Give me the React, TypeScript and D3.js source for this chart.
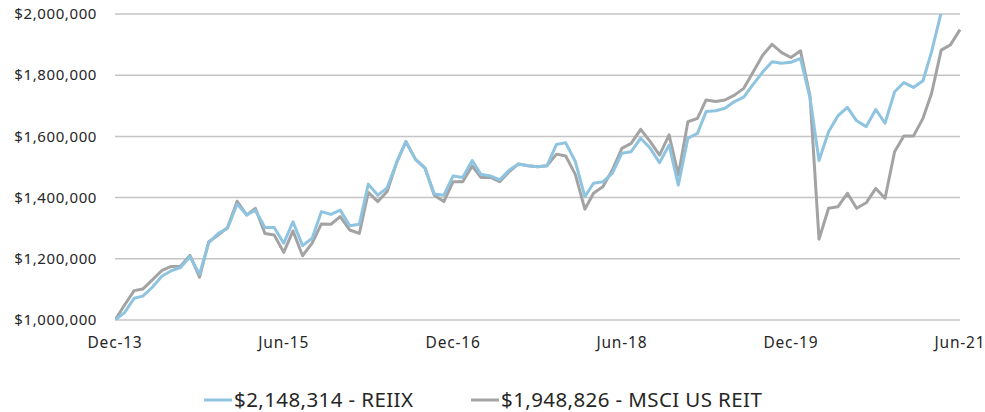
import { useEffect, useRef } from "react";
import * as d3 from "d3";

// month-end values, Dec-13 .. Jun-21 (91 points)
const startMonth = new Date(2013, 11, 1);

const reiix = [
  1000000, 1024000, 1071000, 1078000, 1107000, 1142000, 1161000, 1171000, 1207000, 1150000,
  1253000, 1283000, 1300000, 1379000, 1343000, 1359000, 1302000, 1302000, 1251000, 1321000,
  1243000, 1267000, 1354000, 1345000, 1359000, 1308000, 1313000, 1444000, 1408000, 1432000,
  1515000, 1583000, 1525000, 1496000, 1412000, 1408000, 1471000, 1466000, 1521000, 1476000,
  1471000, 1458000, 1490000, 1510000, 1504000, 1501000, 1504000, 1574000, 1579000, 1518000,
  1403000, 1447000, 1452000, 1479000, 1545000, 1550000, 1594000, 1561000, 1514000, 1572000,
  1441000, 1594000, 1610000, 1681000, 1684000, 1692000, 1714000, 1728000, 1771000, 1811000,
  1844000, 1839000, 1842000, 1855000, 1725000, 1521000, 1615000, 1667000, 1695000, 1651000,
  1632000, 1688000, 1643000, 1746000, 1776000, 1760000, 1782000, 1877000, 2005000, 2090000,
  2148314,
];

const msci = [
  1000000, 1049000, 1096000, 1101000, 1131000, 1161000, 1175000, 1176000, 1211000, 1140000,
  1256000, 1278000, 1303000, 1388000, 1343000, 1365000, 1283000, 1278000, 1221000, 1291000,
  1210000, 1251000, 1314000, 1313000, 1338000, 1294000, 1283000, 1417000, 1387000, 1420000,
  1515000, 1583000, 1525000, 1496000, 1408000, 1387000, 1452000, 1452000, 1503000, 1466000,
  1466000, 1452000, 1485000, 1510000, 1504000, 1501000, 1504000, 1542000, 1536000, 1476000,
  1362000, 1414000, 1436000, 1490000, 1561000, 1577000, 1623000, 1583000, 1539000, 1605000,
  1474000, 1648000, 1659000, 1719000, 1714000, 1719000, 1735000, 1757000, 1811000, 1866000,
  1901000, 1874000, 1858000, 1880000, 1730000, 1264000, 1365000, 1370000, 1414000, 1365000,
  1383000, 1430000, 1398000, 1550000, 1601000, 1601000, 1659000, 1741000, 1882000, 1899000,
  1948826,
];

const yTicks = [1000000, 1200000, 1400000, 1600000, 1800000, 2000000];
const xTickMonths = [0, 18, 36, 54, 72, 90];

const seriesNames = ["$2,148,314 - REIIX", "$1,948,826 - MSCI US REIT"];
const seriesColors = ["#8ec4e0", "#a3a3a3"];

export default function App() {
  const svgRef = useRef<SVGSVGElement>(null);

  useEffect(() => {
    if (!svgRef.current) return;

    const width = 985;
    const height = 412;
    const margin = { top: 14, right: 25, bottom: 92, left: 115 };
    const innerW = width - margin.left - margin.right;
    const innerH = height - margin.top - margin.bottom;

    const dates = reiix.map((_, i) => d3.timeMonth.offset(startMonth, i));

    const x = d3
      .scaleTime()
      .domain([dates[0], dates[dates.length - 1]])
      .range([0, innerW]);

    const y = d3.scaleLinear().domain([1000000, 2000000]).range([innerH, 0]);

    const svg = d3.select(svgRef.current);
    svg.selectAll("*").remove();

    svg
      .append("defs")
      .append("clipPath")
      .attr("id", "plot-clip")
      .append("rect")
      .attr("x", 0)
      .attr("y", 0)
      .attr("width", innerW + 2)
      .attr("height", innerH);

    const g = svg
      .append("g")
      .attr("transform", `translate(${margin.left},${margin.top})`);

    const fmt = d3.format("$,.0f");

    g.selectAll(".grid")
      .data(yTicks)
      .enter()
      .append("line")
      .attr("x1", 0)
      .attr("x2", innerW)
      .attr("y1", (d) => y(d))
      .attr("y2", (d) => y(d))
      .attr("stroke", "#c4c4c4")
      .attr("stroke-width", 1.5);

    g.selectAll(".ylabel")
      .data(yTicks)
      .enter()
      .append("text")
      .attr("x", -18)
      .attr("y", (d) => y(d))
      .attr("dy", "0.35em")
      .attr("text-anchor", "end")
      .attr("font-size", "15px")
      .attr("letter-spacing", "0.6px")
      .attr("fill", "#262626")
      .text((d) => fmt(d));

    const xFmt = d3.timeFormat("%b-%y");
    g.selectAll(".xlabel")
      .data(xTickMonths)
      .enter()
      .append("text")
      .attr("x", (d) => x(dates[d]))
      .attr("y", innerH + 28)
      .attr("text-anchor", "middle")
      .attr("font-size", "15.5px")
      .attr("letter-spacing", "0.8px")
      .attr("fill", "#262626")
      .text((d) => xFmt(dates[d]));

    const line = d3
      .line<number>()
      .x((_, i) => x(dates[i]))
      .y((d) => y(d));

    const plot = g.append("g").attr("clip-path", "url(#plot-clip)");

    [msci, reiix].forEach((s, k) => {
      plot
        .append("path")
        .datum(s)
        .attr("fill", "none")
        .attr("stroke", seriesColors[1 - k])
        .attr("stroke-width", 3)
        .attr("stroke-linejoin", "round")
        .attr("d", line);
    });

    // legend
    const legend = svg.append("g").attr("transform", `translate(0, 400)`);
    const legendX = [204, 471];
    seriesNames.forEach((name, i) => {
      legend
        .append("line")
        .attr("x1", legendX[i])
        .attr("x2", legendX[i] + 28)
        .attr("y1", 0)
        .attr("y2", 0)
        .attr("stroke", seriesColors[i])
        .attr("stroke-width", 3);
      legend
        .append("text")
        .attr("x", legendX[i] + 30)
        .attr("y", 0)
        .attr("dy", "0.35em")
        .attr("font-size", "20.5px")
        .attr("letter-spacing", "0.4px")
        .attr("fill", "#262626")
        .text(name);
    });
  }, []);

  return (
    <svg
      ref={svgRef}
      width={985}
      height={412}
      style={{
        display: "block",
        position: "absolute",
        left: 0,
        top: 0,
        fontFamily: "'Noto Sans', 'Open Sans', sans-serif",
        background: "#fff",
      }}
    />
  );
}
